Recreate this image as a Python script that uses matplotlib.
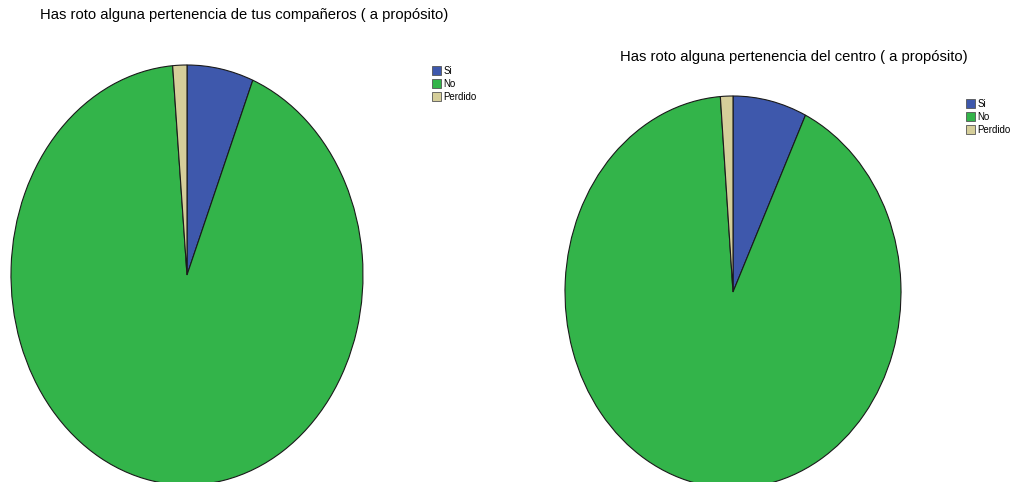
import matplotlib
matplotlib.use("Agg")
import matplotlib.pyplot as plt
from matplotlib.patches import Patch

plt.rcParams['font.family'] = ['Liberation Sans', 'DejaVu Sans']

categories = ["Si", "No", "Perdido"]
values_left = [6.1, 92.6, 1.3]
values_right = [7.1, 91.7, 1.2]
title_left = "Has roto alguna pertenencia de tus compañeros ( a propósito)"
title_right = "Has roto alguna pertenencia del centro ( a propósito)"
colors = ["#3E58AC", "#33B44A", "#D5CE9A"]

W, H = 1011, 482
fig = plt.figure(figsize=(W / 100, H / 100), dpi=100)


def px_axes(left, top, width, height):
    return fig.add_axes([left / W, (H - top - height) / H, width / W, height / H])


def draw_pie(cx, cy, rx, ry, values):
    ax = px_axes(cx - rx, cy - ry, 2 * rx, 2 * ry)
    ax.pie(values, colors=colors, startangle=90, counterclock=False,
           wedgeprops=dict(edgecolor="#1a1a1a", linewidth=0.8))
    ax.set_aspect('auto')
    ax.set_xlim(-1.0, 1.0)
    ax.set_ylim(-1.0, 1.0)
    ax.axis('off')
    return ax


draw_pie(187, 275, 176, 210, values_left)
draw_pie(733, 292, 168, 196, values_right)

fig.text(244 / W, 1 - 15 / H, title_left, ha='center', va='center', fontsize=10.6)
fig.text(794 / W, 1 - 57 / H, title_right, ha='center', va='center', fontsize=10.6)

handles = [Patch(facecolor=c, edgecolor="#555555", linewidth=0.6) for c in colors]


def draw_legend(x, y):
    fig.legend(handles, categories, loc='upper left', bbox_to_anchor=(x / W, 1 - y / H),
               frameon=False, fontsize=7, handlelength=0.95, handleheight=0.95,
               handletextpad=0.2, labelspacing=0.3, borderpad=0, borderaxespad=0)


draw_legend(432, 66)
draw_legend(966, 99)

fig.savefig("out.png", dpi=100)
